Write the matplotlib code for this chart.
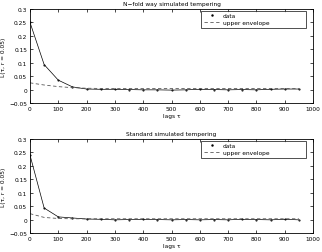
import numpy as np
import matplotlib
matplotlib.use("Agg")
import matplotlib.pyplot as plt

lags = np.arange(0, 1000, 50)

# N-fold way simulated tempering
nfold_data = [0.25, 0.093, 0.035, 0.010, 0.002, 0.001, 0.001, 0.000, -0.001, -0.001,
              -0.002, -0.001, 0.001, 0.000, -0.001, 0.000, -0.001, 0.001, 0.002, 0.002]
nfold_env = [0.025, 0.017, 0.011, 0.007, 0.005, 0.004, 0.004, 0.004, 0.004, 0.004,
             0.004, 0.004, 0.004, 0.004, 0.004, 0.004, 0.004, 0.004, 0.004, 0.004]

# Standard simulated tempering
std_data = [0.24, 0.043, 0.010, 0.006, 0.002, 0.001, -0.001, 0.000, 0.001, 0.000,
            -0.001, 0.000, -0.001, 0.000, -0.001, 0.001, 0.000, -0.001, 0.001, -0.001]
std_env = [0.022, 0.008, 0.004, 0.003, 0.003, 0.003, 0.003, 0.003, 0.003, 0.003,
           0.003, 0.003, 0.003, 0.003, 0.003, 0.003, 0.003, 0.003, 0.003, 0.003]

titles = ["N\u2212fold way simulated tempering", "Standard simulated tempering"]
series = [(nfold_data, nfold_env), (std_data, std_env)]

plt.rcParams['font.family'] = 'DejaVu Sans'
plt.rcParams['font.size'] = 4.2

fig = plt.figure(figsize=(3.22, 2.53), dpi=100)
rects = [[30/322, 1 - 104/253, 283/322, 94/253],
         [30/322, 1 - 234/253, 283/322, 94/253]]

for rect, title, (data, env) in zip(rects, titles, series):
    ax = fig.add_axes(rect)
    ax.plot(lags, data, 'k-', linewidth=0.5)
    ax.plot(lags, data, 'k.', markersize=1.0, label='data')
    ax.plot(lags, env, '--', color='0.35', linewidth=0.6, dashes=(4, 3), label='upper envelope')
    ax.set_xlim(0, 1000)
    ax.set_ylim(-0.05, 0.3)
    ax.set_xticks(np.arange(0, 1001, 100))
    ax.set_yticks([-0.05, 0, 0.05, 0.1, 0.15, 0.2, 0.25, 0.3])
    ax.set_yticklabels(['\u22120.05', '0', '0.05', '0.1', '0.15', '0.2', '0.25', '0.3'])
    ax.tick_params(direction='in', length=2, width=0.5, top=True, right=True, pad=2)
    for s in ax.spines.values():
        s.set_linewidth(0.6)
    ax.set_title(title, fontsize=4.2, pad=3)
    ax.set_xlabel('lags \u03c4', labelpad=1.5)
    ax.set_ylabel('L(\u03c4, r = 0.05)', labelpad=2)
    leg = ax.legend(loc='upper left', bbox_to_anchor=(0.605, 0.79, 0.37, 0.19), mode='expand',
                    fontsize=4.2, frameon=True, fancybox=False,
                    edgecolor='black', borderpad=0.4, handlelength=3.0, labelspacing=0.35,
                    borderaxespad=0.0, markerscale=1.5, handletextpad=0.3)
    leg.get_frame().set_linewidth(0.6)

fig.savefig('out.png', dpi=100)
